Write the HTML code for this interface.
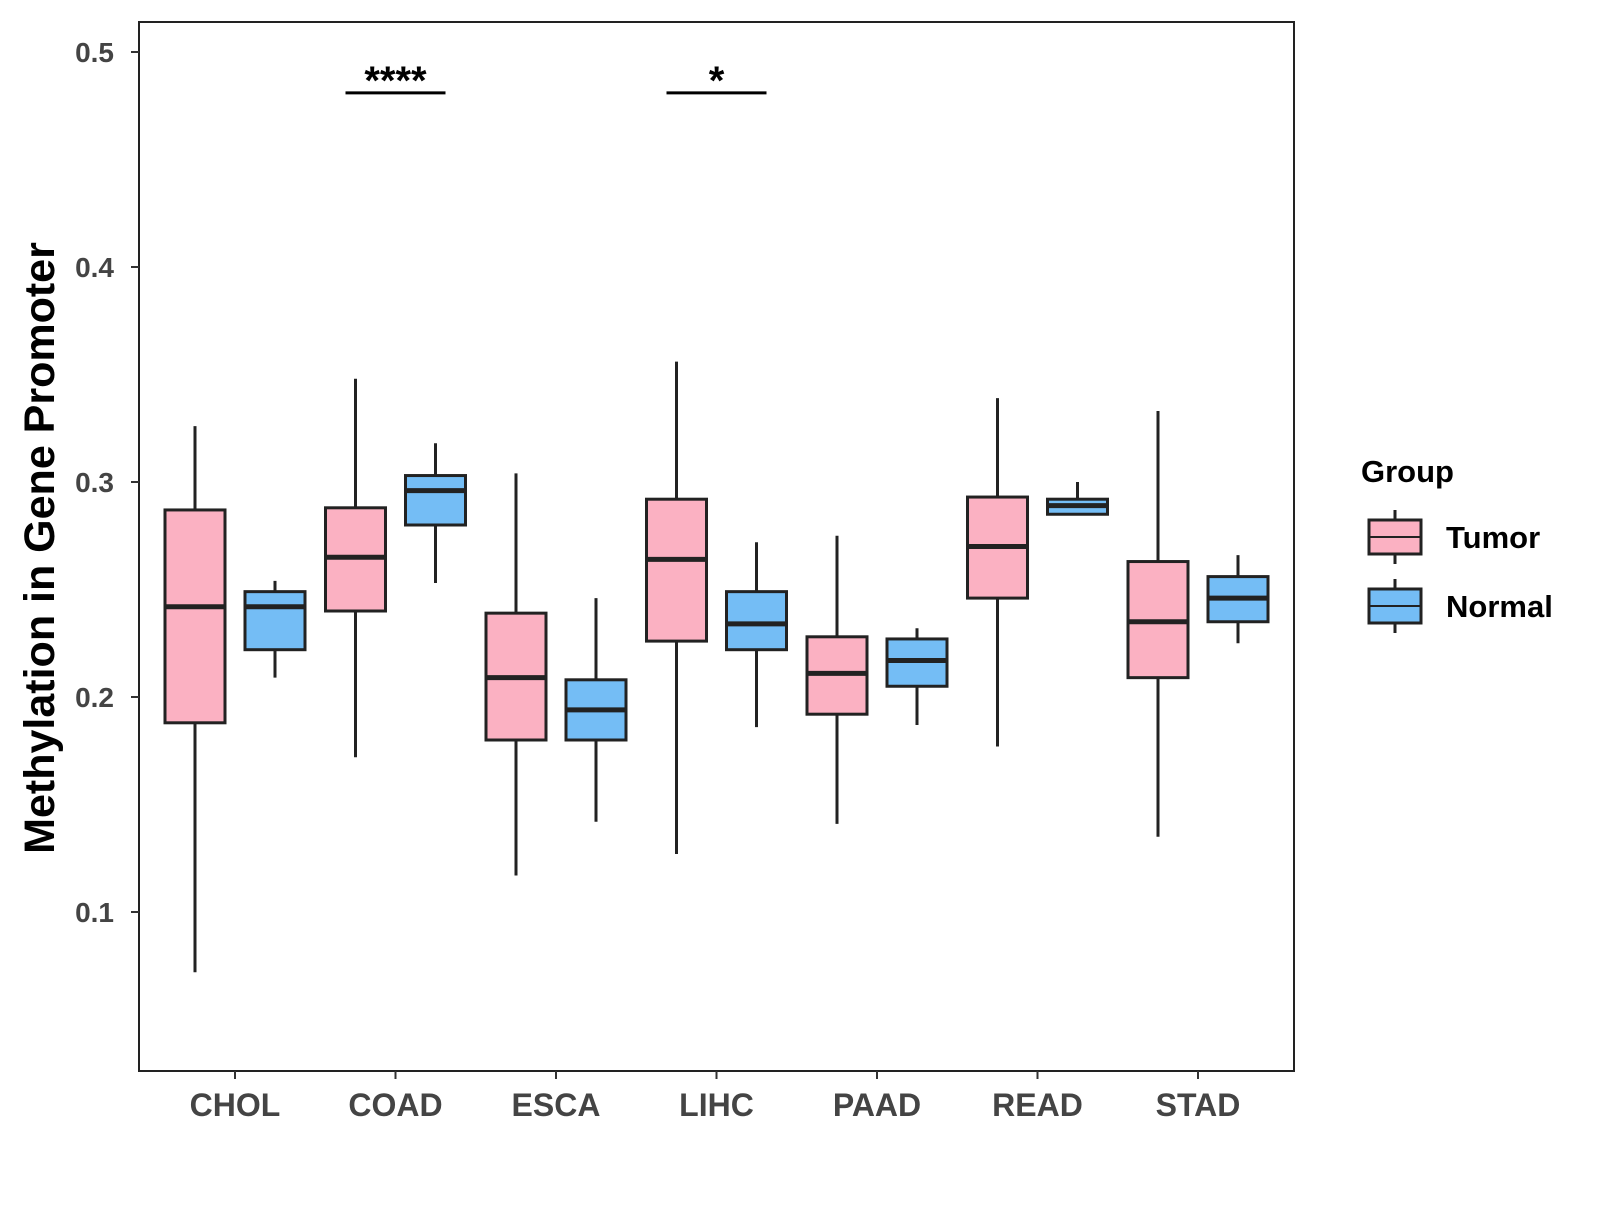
<!DOCTYPE html>
<html><head><meta charset="utf-8"><style>
body{margin:0;background:#fff}
text{font-family:"Liberation Sans",Arial,sans-serif;font-weight:bold}
</style></head><body>
<svg id="chart" width="1600" height="1200" xmlns="http://www.w3.org/2000/svg">
<rect width="1600" height="1200" fill="#fff"/>
<g id="plot"></g>
<text transform="translate(54,548) rotate(-90)" text-anchor="middle" font-size="43" fill="#000">Methylation in Gene Promoter</text>
<g>
<text x="1361" y="482" font-size="31" fill="#000">Group</text>
<g id="legend-keys"></g>
</g>
</svg>
<script>
const categories=["CHOL","COAD","ESCA","LIHC","PAAD","READ","STAD"];
const groups=["Tumor","Normal"];
const colors=["#FBB1C2","#74BDF5"];
// [lowWhisker, q1, median, q3, highWhisker]
const tumorStats=[[0.072,0.188,0.242,0.287,0.326],[0.172,0.240,0.265,0.288,0.348],[0.117,0.180,0.209,0.239,0.304],[0.127,0.226,0.264,0.292,0.356],[0.141,0.192,0.211,0.228,0.275],[0.177,0.246,0.270,0.293,0.339],[0.135,0.209,0.235,0.263,0.333]];
const normalStats=[[0.209,0.222,0.242,0.249,0.254],[0.253,0.280,0.296,0.303,0.318],[0.142,0.180,0.194,0.208,0.246],[0.186,0.222,0.234,0.249,0.272],[0.187,0.205,0.217,0.227,0.232],[0.285,0.285,0.289,0.292,0.300],[0.225,0.235,0.246,0.256,0.266]];
const yTicks=[0.1,0.2,0.3,0.4,0.5];
const sigCats=["COAD","LIHC"];
const sigLabels=["****","*"];
const sigY=0.481;
const NS="http://www.w3.org/2000/svg";
const L=139,R=1294,T=22,B=1071;
const y=v=>52+(0.5-v)*2150;
const x=i=>235+i*160.5;
const g=document.getElementById('plot');
function mk(tag,attrs,parent){const e=document.createElementNS(NS,tag);for(const k in attrs)e.setAttribute(k,attrs[k]);(parent||g).appendChild(e);return e;}
const frame=mk('rect',{x:L,y:T,width:R-L,height:B-T,fill:'none',stroke:'#222','stroke-width':2});


yTicks.forEach(v=>{
  const t=mk('line',{x1:L-8,x2:L,y1:y(v),y2:y(v),stroke:'#333','stroke-width':2});
  
  
  const l=mk('text',{x:L-25,y:y(v)+10,'text-anchor':'end','font-size':28,fill:'#444'});
  l.textContent=v.toFixed(1);
  
  
});
categories.forEach((c,i)=>{
  const t=mk('line',{x1:x(i),x2:x(i),y1:B,y2:B+8,stroke:'#333','stroke-width':2});
  
  
  const l=mk('text',{x:x(i),y:B+45,'text-anchor':'middle','font-size':32,fill:'#444'});
  l.textContent=c;
  
  
  [tumorStats[i],normalStats[i]].forEach((s,k)=>{
    const cx=x(i)+(k?40:-40),w=60;
    const bg=mk('g',{});
    
    
    mk('line',{x1:cx,x2:cx,y1:y(s[0]),y2:y(s[4]),stroke:'#222','stroke-width':3},bg);
    mk('rect',{x:cx-w/2,y:y(s[3]),width:w,height:y(s[1])-y(s[3]),fill:colors[k],stroke:'#222','stroke-width':3},bg);
    mk('line',{x1:cx-w/2,x2:cx+w/2,y1:y(s[2]),y2:y(s[2]),stroke:'#222','stroke-width':5},bg);
  });
});
sigCats.forEach((c,j)=>{
  const i=categories.indexOf(c);
  const l=mk('line',{x1:x(i)-50,x2:x(i)+50,y1:y(sigY),y2:y(sigY),stroke:'#000','stroke-width':3});
  
  
  const t=mk('text',{x:x(i),y:y(sigY)+1,'text-anchor':'middle','font-size':40,fill:'#000'});
  t.textContent=sigLabels[j];
  
  
});
const lk=document.getElementById('legend-keys');
groups.forEach((gname,k)=>{
  const cy=537+k*69;
  const e=mk('g',{},lk);
  
  
  mk('line',{x1:1395,x2:1395,y1:cy-27,y2:cy+27,stroke:'#222','stroke-width':3},e);
  mk('rect',{x:1369,y:cy-17,width:52,height:34,fill:colors[k],stroke:'#222','stroke-width':3},e);
  mk('line',{x1:1369,x2:1421,y1:cy,y2:cy,stroke:'#222','stroke-width':2},e);
  const t=mk('text',{x:1446,y:cy+11,'font-size':31,fill:'#000'},e);
  t.textContent=gname;
});
</script>
</body></html>
